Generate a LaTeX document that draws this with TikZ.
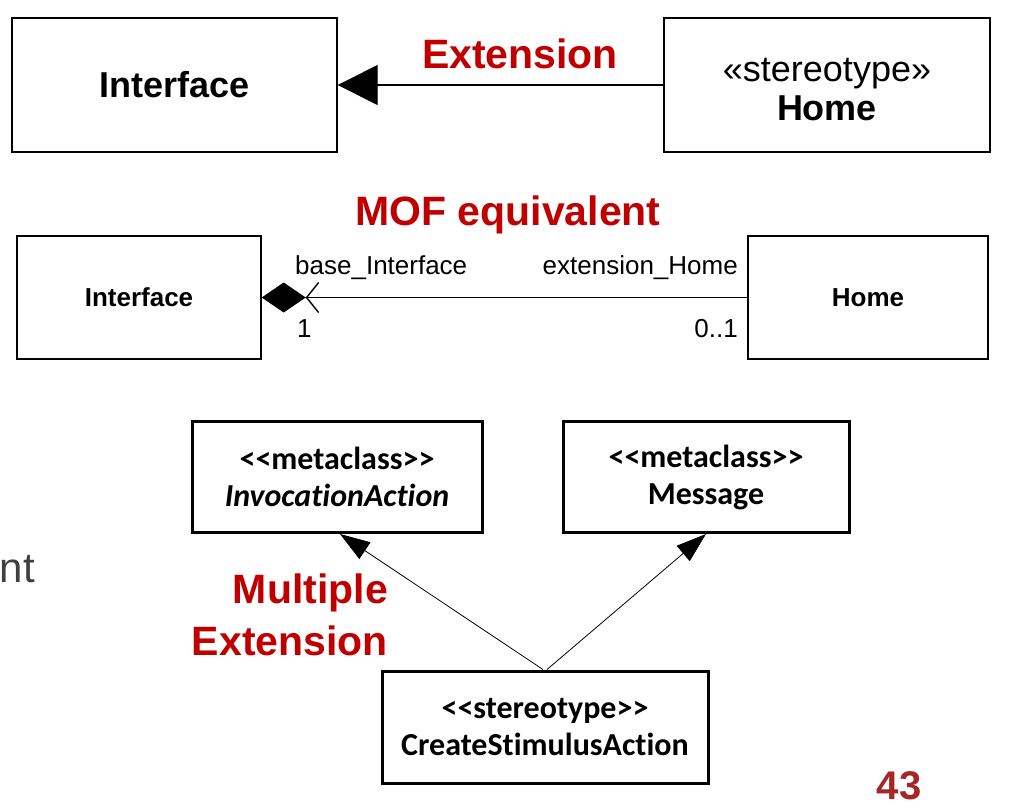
\documentclass[tikz,border=0pt]{standalone}
\usepackage{fontspec}
\setmainfont{Liberation Sans}
\newfontfamily\calibri[Ligatures=NoCommon]{Carlito}
\usepackage{tikz}
\usetikzlibrary{arrows.meta,positioning}
\usepackage{xcolor}
\definecolor{hl}{RGB}{192,0,0}
\definecolor{pnum}{RGB}{165,38,38}
\definecolor{slide}{RGB}{64,64,64}
\newcommand{\px}[2]{\fontsize{#1}{#2}\selectfont}
\tikzset{
  umlbox/.style={draw=black,line width=1.4pt,inner sep=0pt,align=center},
  metabox/.style={draw=black,line width=3pt,inner sep=0pt,align=center,font=\calibri\bfseries\px{32}{37}},
  hltxt/.style={text=hl,font=\bfseries\px{41}{52},inner sep=0pt},
  role/.style={font=\px{26}{28},inner sep=0pt},
  extarr/.style={-{Triangle[length=40pt,width=40pt]},line width=1.4pt},
  comparr/.style={{Diamond[length=44pt,width=30pt]Straight Barb[length=12pt,width=30pt]}-,line width=1.4pt},
  genarr/.style={-{Triangle[length=30pt,width=20pt]},line width=0.8pt},
}

\begin{document}
\begin{tikzpicture}[x=1pt,y=-1pt]
\useasboundingbox (0,0) rectangle (1009,807);
% extension
\begin{scope}
  \node[umlbox,minimum width=325pt,minimum height=134pt,font=\bfseries\px{36}{39}] (ifaceTop) at (174.5,85) {Interface};
  \node[umlbox,minimum width=326pt,minimum height=134pt,font=\px{36}{39}] (homeTop) at (827,85) {\rule{0pt}{32pt}«stereotype»\\\bfseries Home};
  \draw[extarr] (homeTop.west) -- (ifaceTop.east);
  \node[hltxt,anchor=base] (extLbl) at (520,68) {Extension};
\end{scope}
% MOF equivalent
\begin{scope}
  \node[hltxt,anchor=base] (mofLbl) at (508,225) {MOF equivalent};
  \node[umlbox,minimum width=244pt,minimum height=123pt,font=\bfseries\px{26}{28}] (ifaceMof) at (139,297.5) {Interface};
  \node[umlbox,minimum width=240pt,minimum height=123pt,font=\bfseries\px{26}{28}] (homeMof) at (868,297.5) {Home};
  \draw[comparr] (ifaceMof.east) -- (homeMof.west);
  \node[role,anchor=base west] (baseRole) at (295,274) {base\_Interface};
  \node[role,anchor=base east] (extRole) at (738,274) {extension\_Home};
  \node[role,anchor=base west] (multOne) at (297,337) {1};
  \node[role,anchor=base east] (multOpt) at (738,337) {0..1};
\end{scope}
% multiple extension
\begin{scope}
  \node[metabox,minimum width=290pt,minimum height=111pt] (invAct) at (337,477) {<<metaclass>>\\\itshape InvocationAction};
  \node[metabox,minimum width=286pt,minimum height=111pt] (msgCls) at (706,477) {<<metaclass>>\\Message};
  \node[metabox,minimum width=326pt,minimum height=112pt] (stimAct) at (545,727) {<<stereotype>>\\CreateStimulusAction};
  \draw[genarr] ([xshift=-2pt]stimAct.north) -- ([xshift=3pt]invAct.south);
  \draw[genarr] ([xshift=2pt]stimAct.north) -- (msgCls.south);
  \node[hltxt,anchor=base east] (multLbl) at (388,603) {Multiple};
  \node[hltxt,anchor=base east] (multLbl2) at (388,655) {Extension};
\end{scope}
\node[font=\px{42}{42},text=slide,anchor=base east,inner sep=0pt] (slideTxt) at (35,582) {nt};
\node[font=\bfseries\px{40}{40},text=pnum,anchor=base,inner sep=0pt] (pageNo) at (899,799) {43};
\end{tikzpicture}
\end{document}
